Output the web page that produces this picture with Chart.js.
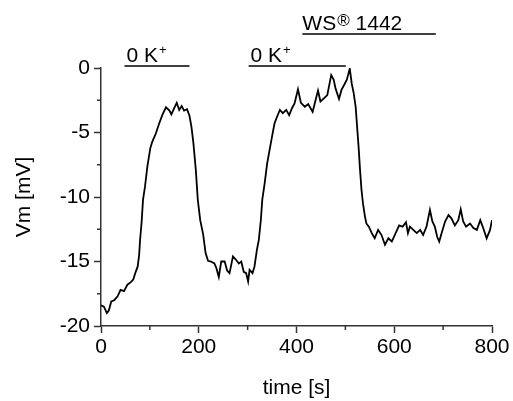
<!DOCTYPE html>
<html>
<head>
<meta charset="utf-8">
<script src="https://cdn.jsdelivr.net/npm/chart.js@4/dist/chart.umd.min.js"></script>
<style>
  html, body { margin: 0; padding: 0; background: #fff; }
</style>
</head>
<body>
<canvas id="vmChart" width="513" height="401"></canvas>
<script>
// membrane potential trace
const timeS = [0, 6, 12, 16, 21, 27, 34, 40, 47, 54, 61, 66, 71, 75, 78, 80, 83, 86, 90, 95,
  101, 105, 112, 119, 126, 133, 140, 144, 150, 155, 160, 165, 170, 176, 181, 185, 189, 194, 198,
  203, 209, 214, 219, 225, 232, 236, 241, 246, 253, 258, 263, 270, 277, 282, 287, 292, 297,
  301, 304, 310, 314, 319, 323, 327, 330, 335, 340, 345, 350, 355, 360, 366, 372, 379, 385,
  391, 396, 403, 409, 417, 424, 433, 439, 444, 449, 456, 463, 471, 476, 480, 487, 492, 499,
  503, 509, 513, 517, 521, 524, 527, 530, 533, 536, 540, 543, 548, 554, 560, 567, 574, 581,
  588, 595, 601, 610, 617, 624, 628, 632, 639, 646, 653, 659, 666, 673, 678, 683, 688, 692,
  697, 704, 711, 717, 724, 731, 736, 741, 747, 755, 762, 769, 776, 782, 789, 796, 800];
const vmMV = [-18.4, -18.5, -19.0, -18.8, -18.1, -18.0, -17.7, -17.2, -17.3, -16.8, -16.6, -16.4,
  -15.8, -15.4, -14.5, -13.3, -12.0, -10.2, -9.2, -7.6,
  -6.2, -5.7, -5.1, -4.3, -3.6, -3.05, -3.3, -3.6, -3.1, -2.7, -3.25, -2.95, -3.3, -3.2, -3.7,
  -4.55, -5.8, -7.9, -10.2,
  -11.8, -12.9, -14.35, -14.95, -15.0, -15.15, -15.5, -16.2, -15.0, -15.0, -15.7, -15.9, -14.6,
  -14.9, -15.15, -15.0, -15.8, -15.9,
  -16.55, -15.65, -15.9, -15.4, -14.1, -13.3, -11.8, -10.2, -8.9, -7.4, -6.35, -5.3, -4.3,
  -3.8, -3.25, -3.5, -3.25, -3.65,
  -3.1, -2.75, -1.65, -2.7, -3.0, -2.8, -3.4, -2.5, -1.75, -2.6, -2.35, -2.1, -0.55, -0.9,
  -1.6, -2.4, -1.7, -1.2,
  -0.9, -0.05, -1.2, -1.95, -3.0, -4.55, -6.1, -7.9, -9.45, -10.5, -11.5, -12.05, -12.3,
  -12.8, -13.2, -12.55, -12.95, -13.7,
  -13.2, -13.45, -12.95, -12.2, -12.3, -11.95, -12.8, -12.3, -12.55, -12.8, -12.55, -12.95,
  -12.3, -11.0, -11.9, -12.3, -13.1, -13.45,
  -12.8, -11.9, -11.4, -11.65, -12.2, -11.8, -10.95, -11.9, -12.3, -12.05, -12.4, -12.55,
  -11.8, -12.4, -13.2, -12.55, -11.8];

// application periods (s)
const k0Periods = [[48, 181], [302, 501]];
const wsPeriod = [412, 685];

const fontFamily = '"Liberation Sans", Arial, sans-serif';
const axisColor = '#333';

const minorTicks = {
  id: 'minorTicks',
  afterDraw(chart) {
    const ctx = chart.ctx;
    const xs = chart.scales.x, ys = chart.scales.y;
    ctx.save();
    ctx.strokeStyle = axisColor;
    ctx.lineWidth = 1.5;
    ctx.beginPath();
    for (let v = xs.min + 100; v < xs.max; v += 200) {
      const px = xs.getPixelForValue(v);
      ctx.moveTo(px, xs.top);
      ctx.lineTo(px, xs.top + 4);
    }
    for (let v = ys.min + 2.5; v < ys.max; v += 5) {
      const py = ys.getPixelForValue(v);
      ctx.moveTo(ys.right, py);
      ctx.lineTo(ys.right - 4, py);
    }
    ctx.stroke();
    ctx.restore();
  }
};

function drawLabel(ctx, x, y, main, sup, supSize, supRise, rest) {
  ctx.font = '21px ' + fontFamily;
  ctx.fillText(main, x, y);
  let w = ctx.measureText(main).width;
  ctx.font = supSize + 'px ' + fontFamily;
  ctx.fillText(sup, x + w + 1, y - supRise);
  w += ctx.measureText(sup).width + 1;
  if (rest) {
    ctx.font = '21px ' + fontFamily;
    ctx.fillText(rest, x + w, y);
  }
}

const periodBars = {
  id: 'periodBars',
  afterDraw(chart) {
    const ctx = chart.ctx;
    const xs = chart.scales.x;
    const top = chart.chartArea.top;
    ctx.save();
    ctx.strokeStyle = '#000';
    ctx.fillStyle = '#000';
    ctx.lineWidth = 1.5;
    ctx.textBaseline = 'alphabetic';
    k0Periods.forEach(p => {
      const x0 = xs.getPixelForValue(p[0]), x1 = xs.getPixelForValue(p[1]);
      const y = top - 2;
      ctx.beginPath();
      ctx.moveTo(x0, y);
      ctx.lineTo(x1, y);
      ctx.stroke();
      drawLabel(ctx, x0 + 2, y - 4, '0 K', '+', 13, 8);
    });
    const w0 = xs.getPixelForValue(wsPeriod[0]), w1 = xs.getPixelForValue(wsPeriod[1]);
    const wy = top - 34;
    ctx.beginPath();
    ctx.moveTo(w0, wy);
    ctx.lineTo(w1, wy);
    ctx.stroke();
    drawLabel(ctx, w0, wy - 4, 'WS', '\u00AE', 17, 4, ' 1442');
    ctx.restore();
  }
};

new Chart(document.getElementById('vmChart'), {
  type: 'line',
  data: {
    datasets: [{
      data: timeS.map((t, i) => ({ x: t, y: vmMV[i] })),
      borderColor: '#000',
      borderWidth: 1.8,
      pointRadius: 0,
      tension: 0,
      fill: false
    }]
  },
  options: {
    responsive: false,
    animation: false,
    layout: { padding: { top: 68, right: 21, left: 0, bottom: 0 } },
    plugins: { legend: { display: false }, tooltip: { enabled: false } },
    scales: {
      x: {
        type: 'linear',
        min: 0, max: 800,
        afterFit(scale) { scale.height = 75; },
        grid: { drawOnChartArea: false, tickLength: 7, tickColor: axisColor, tickWidth: 1.5 },
        border: { color: axisColor, width: 1.5 },
        ticks: { stepSize: 200, color: '#000', padding: 2, font: { size: 21, family: fontFamily } },
        title: { display: true, text: 'time [s]', color: '#000', padding: { top: 0, bottom: 0 },
          font: { size: 21, family: fontFamily } }
      },
      y: {
        min: -20, max: 0,
        afterFit(scale) { scale.width = 101; },
        grid: { drawOnChartArea: false, tickLength: 7, tickColor: axisColor, tickWidth: 1.5 },
        border: { color: axisColor, width: 1.5 },
        ticks: { stepSize: 5, color: '#000', padding: 4, font: { size: 21, family: fontFamily },
          callback: v => String(v) },
        title: { display: true, text: 'Vm [mV]', color: '#000', padding: { top: 12, bottom: 0 },
          font: { size: 21, family: fontFamily } }
      }
    }
  },
  plugins: [minorTicks, periodBars]
});
</script>
</body>
</html>
